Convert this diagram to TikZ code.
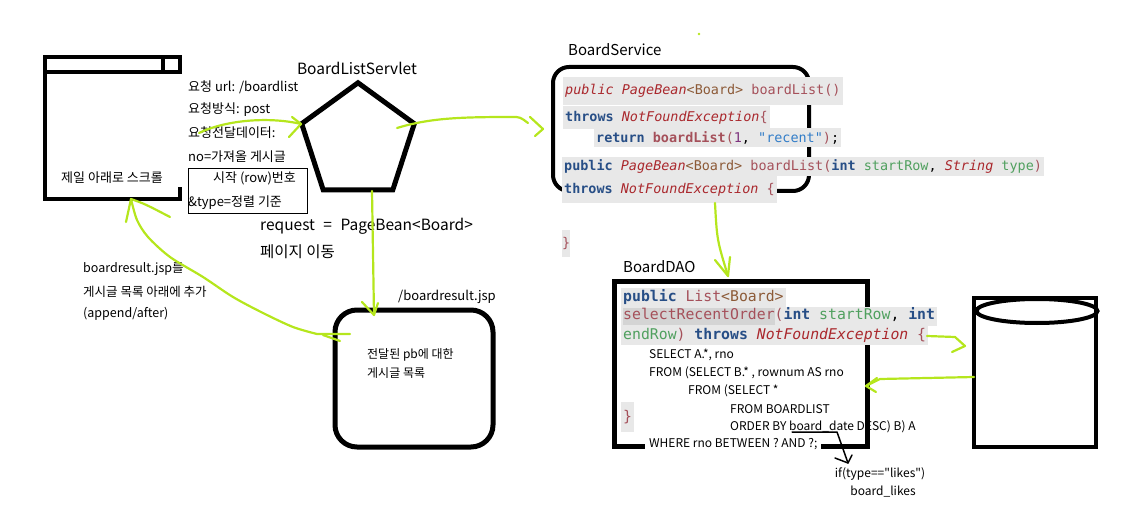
\documentclass[tikz,border=0pt]{standalone}
\usepackage{fontspec}
\setmainfont{Noto Sans CJK KR}
\newfontfamily\krplain{Noto Sans CJK KR}[Ligatures=TeXOff]
\newfontfamily\codefont{DejaVu Sans Mono}[Ligatures=TeXOff]
\usetikzlibrary{shapes.geometric}
\definecolor{kw}{RGB}{39,78,134}
\definecolor{ty}{RGB}{170,40,45}
\definecolor{gen}{RGB}{140,90,55}
\definecolor{meth}{RGB}{165,80,90}
\definecolor{var}{RGB}{80,160,95}
\definecolor{strc}{RGB}{50,125,200}
\definecolor{numc}{RGB}{125,50,125}
\definecolor{codebg}{RGB}{232,232,232}
\definecolor{selbg}{RGB}{212,212,212}
\definecolor{lime}{RGB}{181,230,29}
\newcommand\cKw[1]{\textcolor{kw}{\bfseries #1}}
\newcommand\cTy[1]{\textcolor{ty}{\itshape #1}}
\newcommand\cGn[1]{\textcolor{gen}{#1}}
\newcommand\cMe[1]{\textcolor{meth}{#1}}
\newcommand\cVa[1]{\textcolor{var}{#1}}
\newcommand\cSt[1]{\textcolor{strc}{#1}}
\newcommand\cNu[1]{\textcolor{numc}{#1}}
\begin{document}
\begin{tikzpicture}[x=1pt,y=-1pt,
  lbl/.style={inner sep=0pt, anchor=west},
  t13/.style={lbl, font=\fontsize{13}{15}\selectfont},
  t12/.style={lbl, font=\fontsize{12}{14}\selectfont},
  t15/.style={lbl, font=\fontsize{15.5}{18}\selectfont},
  svc/.style={anchor=west, fill=codebg, inner xsep=2pt, inner ysep=0pt,
    font=\codefont\fontsize{13.45}{16}\selectfont},
  dao/.style={anchor=west, fill=codebg, inner xsep=2pt, inner ysep=0pt,
    font=\codefont\fontsize{14.8}{17}\selectfont},
  sql/.style={lbl, font=\fontsize{12}{14}\selectfont},
  green arrow/.style={draw=lime, line width=2.2pt, line cap=round, line join=round},
  sketch arrow/.style={draw=black, line width=1.5pt, line cap=round, line join=round}
]
\path[use as bounding box] (0,0) rectangle (1136,524);

% ---------- browser window ----------
\node[minimum width=135pt, minimum height=142pt, inner sep=0pt] (win) at (112.5,128) {};
\draw[line width=4.5pt, line join=miter]
  ([yshift=-16pt]win.north east) -- (win.north east) -- (win.north west)
  -- (win.south west) -- (win.south east) -- ([yshift=12pt]win.south east);
\draw[line width=4.5pt] ([yshift=-15pt]win.north west) -- ([yshift=-15pt,xshift=2pt]win.north east);
\draw[line width=4pt] ([xshift=-17pt]win.north east) -- ([xshift=-17pt,yshift=-15pt]win.north east);
\node[t13, anchor=center] (scroll) at (112,178) {제일 아래로 스크롤};

\node[t13] (req1) at (188,87) {요청 url: /boardlist};
\node[t13] (req2) at (188,110) {요청방식: post};
\node[t13] (req3) at (188,133) {요청전달데이터:};
\node[t13] (req4) at (188,157) {no=가져올 게시글};
\node[draw, line width=0.9pt, anchor=north west, minimum width=119pt, minimum height=45pt, inner sep=0pt] (rowbox) at (188,168) {};
\node[t13] (req5) at (213,178) {시작 (row)번호};
\node[t13] (req6) at (188,203) {\&type=정렬 기준};

% ---------- servlet ----------
\node[regular polygon, regular polygon sides=5, minimum size=118.4pt, draw, line width=5pt, inner sep=0pt] (servlet) at (358,142) {};
\node[t15, anchor=center] (servletlbl) at (357,68) {BoardListServlet};

\node[t15] (reqtxt) at (260,226) {request\hspace{5pt} = \hspace{5pt}PageBean<Board>};
\node[t15] (movetxt) at (260,252) {페이지 이동};

% ---------- BoardService ----------
\node[t15, font=\fontsize{15}{18}\selectfont] (svclbl) at (568,50) {BoardService};
\node[draw, line width=4pt, rounded corners=16pt, minimum width=256pt, minimum height=124pt] (service) at (681,129) {};
\node[svc, minimum height=28pt] (s1) at (563,91) {\cTy{public} \cTy{PageBean}\cGn{<Board>} \cMe{boardList()}};
\node[svc, minimum height=23pt] (s2) at (563,117.5) {\cKw{throws} \cTy{NotFoundException}\cMe{\{}};
\node[svc, minimum height=19pt] (s3) at (594,137.5) {\cKw{return} \cMe{\bfseries boardList}\cMe{(}\cNu{1}, \cSt{"recent"}\cMe{)};};
\node[svc, minimum height=19pt] (s4) at (562,166.5) {\cKw{public} \cTy{PageBean}\cGn{<Board>} \cMe{boardList(}\cKw{int} \cVa{startRow}, \cTy{String} \cVa{type}\cMe{)}};
\node[svc, minimum height=27pt] (s5) at (562,189.5) {\cKw{throws} \cTy{NotFoundException} \cMe{\{}};
\node[svc, minimum height=27pt, inner xsep=0pt] (s6) at (562,243.5) {\cMe{\}}};

% ---------- BoardDAO ----------
\node[t15, font=\fontsize{15}{18}\selectfont] (daolbl) at (623,267) {BoardDAO};
\node[draw, line width=5pt, minimum width=253pt, minimum height=165pt] (dao) at (740.5,363.5) {};
\node[dao, minimum height=19pt] (d1) at (621,297.5) {\cKw{public} \cMe{List}\cGn{<Board>}\ };
\node[dao, minimum height=19pt] (d2) at (621,316.5) {{\fboxsep=0pt\colorbox{selbg}{\strut\cMe{selectRecentOrder}}}\cMe{(}\cKw{int} \cVa{startRow}, \cKw{int}\ };
\node[dao, minimum height=19pt] (d3) at (621,335.5) {\cVa{endRow}\cMe{)} \cKw{throws} \cTy{NotFoundException} \cMe{\{}};
\node[dao, minimum height=30pt] (d4) at (621,417) {\cMe{\}}};

\node[sql] (q1) at (649,355) {SELECT A.*, rno};
\node[sql] (q2) at (649,373) {FROM (SELECT B.* , rownum AS rno};
\node[sql] (q3) at (688,391) {FROM (SELECT *};
\node[sql] (q4) at (730,409) {FROM BOARDLIST};
\node[sql] (q5) at (730,427) {ORDER BY board\_date DESC) B) A};
\node[sql, fill=white, inner xsep=4pt, inner ysep=1pt] (q6) at (645,444) {WHERE rno BETWEEN ? AND ?;};

\node[t12, anchor=center, font=\krplain\fontsize{12}{14}\selectfont] (likes1) at (880,474) {if(type=="likes")};
\node[t12, anchor=center] (likes2) at (883,492) {board\_likes};

\coordinate (ul1) at (792,432);
\coordinate (ul2) at (837,432);
\coordinate (bk) at (848,463);
\draw[sketch arrow] (ul1) -- (ul2) -- (bk);
\draw[sketch arrow] (835,458) -- (bk) -- (852,455);

% ---------- database ----------
\node[draw, line width=4.5pt, minimum width=122pt, minimum height=149pt] (db) at (1035,372.5) {};
\node[draw, ellipse, line width=4pt, minimum width=121pt, minimum height=24pt, inner sep=0pt] (dbtop) at (1037,311) {};

% ---------- boardresult.jsp ----------
\node[t13] (resultlbl) at (398,297) {/boardresult.jsp};
\node[draw, line width=5pt, rounded corners=22pt, minimum width=158pt, minimum height=137pt] (result) at (414,378.5) {};
\node[t12] (res1) at (367,355) {전달된 pb에 대한};
\node[t12] (res2) at (367,373) {게시글 목록};

\node[t13, font=\fontsize{12.5}{15}\selectfont] (app1) at (83,269) {boardresult.jsp를};
\node[t13, font=\fontsize{12.5}{15}\selectfont] (app2) at (83,292) {게시글 목록 아래에 추가};
\node[t13, font=\fontsize{12.5}{15}\selectfont] (app3) at (83,314) {(append/after)};

% ---------- green arrows ----------
% request data -> servlet
\coordinate (a1s) at (199,133);
\coordinate (a1e) at (301,124);
\draw[green arrow] (a1s) .. controls (228,119) and (272,117) .. (a1e);
\draw[green arrow] (292,117) -- (a1e) -- (289,137);

% servlet -> service
\coordinate (a2s) at (397,128);
\coordinate (a2e) at (543,129);
\draw[green arrow] (a2s) .. controls (430,118) and (460,117) .. (512,117) .. controls (520,117) .. (528,123);
\draw[green arrow] (530,117) -- (a2e) -- (535,136);

% servlet -> result
\coordinate (a3s) at (372,191);
\coordinate (a3e) at (374,315);
\draw[green arrow] (a3s) -- (a3e);
\draw[green arrow] (362,302) -- (a3e) -- (378,303);

% service -> dao
\coordinate (a4e) at (728,276);
\draw[green arrow] (715,203) .. controls (717,240) .. (a4e);
\draw[green arrow] (715,260) -- (a4e) -- (730,257);

% dao -> db
\coordinate (a5e) at (965,346);
\draw[green arrow] (927,336) -- (955,337) -- (a5e) -- (952,352);

% db -> dao
\coordinate (a6s) at (974,377);
\coordinate (a6e) at (866,386);
\draw[green arrow] (a6s) -- (880,379) -- (a6e) -- (876,392);
\draw[green arrow] (877,378) -- (a6e);

% result -> window
\coordinate (a7s) at (350,334);
\coordinate (a7e) at (131,199);
\draw[green arrow] (a7s) -- (317,334) plot[smooth] coordinates {(317,334) (293,327) (263,313) (233,297) (203,277) (170,257) (148,237) (137,220) (a7e)};
\draw[green arrow] (323,335) -- (340,341);
\draw[green arrow] (126,222) -- (a7e) .. controls (145,204) .. (170,217);

% stray dot
\fill[lime] (699,34) circle (1.3pt);
\end{tikzpicture}
\end{document}
